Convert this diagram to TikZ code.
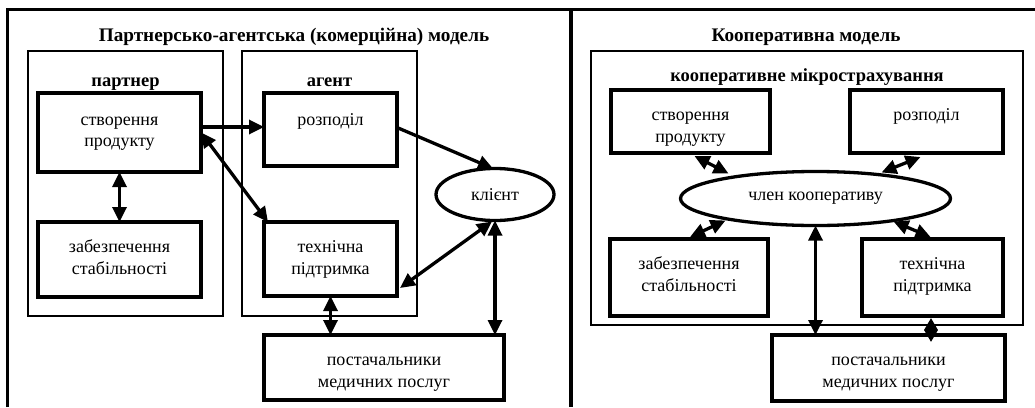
\documentclass[tikz,border=0pt]{standalone}
\usepackage{fontspec}
\setmainfont{Liberation Serif}
\usetikzlibrary{shapes.geometric,arrows.meta,calc}
\tikzset{
  frame/.style={line width=3.6pt, line join=miter},
  thinbox/.style={draw, rectangle, line width=1.2pt, inner sep=0pt, outer sep=0pt},
  thickbox/.style={draw, rectangle, line width=4pt, inner sep=0pt, outer sep=0pt},
  oval/.style={draw, ellipse, line width=3.3pt, inner sep=0pt, outer sep=0pt, font=\fontsize{18}{21}\selectfont},
  lbl/.style={anchor=north, yshift=-15.4pt, align=center, inner sep=0pt, font=\fontsize{18}{21.5}\selectfont},
  blbl/.style={anchor=north, align=center, inner sep=0pt, font=\fontsize{18.5}{21}\selectfont\bfseries},
  ttl/.style={anchor=base, inner sep=0pt, font=\fontsize{19.2}{22}\selectfont\bfseries},
  arr/.style={line width=3.3pt, -{Triangle[length=15pt,width=14pt]}},
  darr/.style={line width=3.3pt, {Triangle[length=15pt,width=14pt]}-{Triangle[length=15pt,width=14pt]}},
  sdarr/.style={line width=3pt, {Triangle[length=12pt,width=13pt]}-{Triangle[length=12pt,width=13pt]}}
}
\begin{document}
\begin{tikzpicture}[x=1pt,y=-1pt]
\useasboundingbox (0,0) rectangle (1035,407);
% outer frame
\draw[frame] (7.5,407) -- (7.5,9.5) -- (1035,9.5);
\draw[frame] (571,9.5) -- (571,407);
% titles
\node[ttl] (t1) at (294,41) {Партнерсько-агентська (комерційна) модель};
\node[ttl] (t2) at (806,41) {Кооперативна модель};
% left panel containers
\node[thinbox, minimum width=195, minimum height=265, label={[blbl,yshift=-20.5pt]north:{\strut партнер}}] (partner) at (125.5,183.5) {};
\node[thinbox, minimum width=175, minimum height=265, label={[blbl,yshift=-20.5pt]north:{\strut агент}}] (agent) at (329.5,183.5) {};
% left boxes
\node[thickbox, minimum width=163, minimum height=79, label={[lbl,yshift=-1.5pt]north:{\strut створення\\продукту}}] (cp) at (119.5,132.5) {};
\node[thickbox, minimum width=133, minimum height=73, label={[lbl,yshift=-1.5pt]north:{\strut розподіл}}] (rz) at (330.5,129.5) {};
\node[thickbox, minimum width=163, minimum height=75, label={[lbl]north:{\strut забезпечення\\стабільності}}] (zs) at (119.5,259.5) {};
\node[thickbox, minimum width=133, minimum height=74, label={[lbl]north:{\strut технічна\\підтримка}}] (tp) at (330.5,259) {};
\node[thickbox, minimum width=240, minimum height=65, label={[lbl]north:{\strut постачальники\\медичних послуг}}] (pm) at (384,367.5) {};
\node[oval, minimum width=118, minimum height=52] (kl) at (495,194.5) {клієнт};
% left arrows
\draw[arr] ([yshift=5.5pt]cp.east) -- ([yshift=5.5pt]cp.east -| rz.west);
\draw[darr] (cp.east) -- ($(tp.north west)+(4,0)$);
\draw[arr] ([yshift=2pt]rz.east) -- ($(kl.north)+(-2,0)$);
\draw[darr] (cp.south) -- (zs.north);
\draw[darr] ($(tp.south east)+(3,-8)$) -- ($(kl.south)+(-3,1)$);
\draw[darr] (tp.south) -- (tp.south |- pm.north);
\draw[darr] (kl.south) -- (kl.south |- pm.north);
% right panel container
\node[thinbox, minimum width=432, minimum height=274, label={[blbl,yshift=-15.4pt]north:{\strut кооперативне мікрострахування}}] (koop) at (807,188) {};
% right boxes
\node[thickbox, minimum width=159, minimum height=63, label={[lbl]north:{\strut створення\\продукту}}] (cp2) at (690.5,121.5) {};
\node[thickbox, minimum width=153, minimum height=63, label={[lbl]north:{\strut розподіл}}] (rz2) at (926.5,121.5) {};
\node[thickbox, minimum width=158, minimum height=77, label={[lbl]north:{\strut забезпечення\\стабільності}}] (zs2) at (689,277.5) {};
\node[thickbox, minimum width=141, minimum height=77, label={[lbl]north:{\strut технічна\\підтримка}}] (tp2) at (932.5,277.5) {};
\node[thickbox, minimum width=233, minimum height=66, label={[lbl]north:{\strut постачальники\\медичних послуг}}] (pm2) at (888.5,368) {};
\node[oval, minimum width=270, minimum height=54] (m) at (815.5,198.5) {член кооперативу};
% right arrows
\draw[darr] ($(cp2.south)+(4,3)$) -- ($(m.center)+(-87,-25)$);
\draw[darr] ($(rz2.south)+(-6,4)$) -- ($(m.center)+(66,-26)$);
\draw[darr] ($(zs2.north)+(1,-2)$) -- ($(m.center)+(-90,22)$);
\draw[darr] ($(m.center)+(78,23)$) -- ($(tp2.north)+(-2,-2)$);
\draw[darr] (m.south) -- (m.south |- pm2.north);
\draw[sdarr] ($(tp2.south)+(-1.5,2)$) -- ($(tp2.south |- pm2.north)+(-1.5,7)$);
\end{tikzpicture}
\end{document}
